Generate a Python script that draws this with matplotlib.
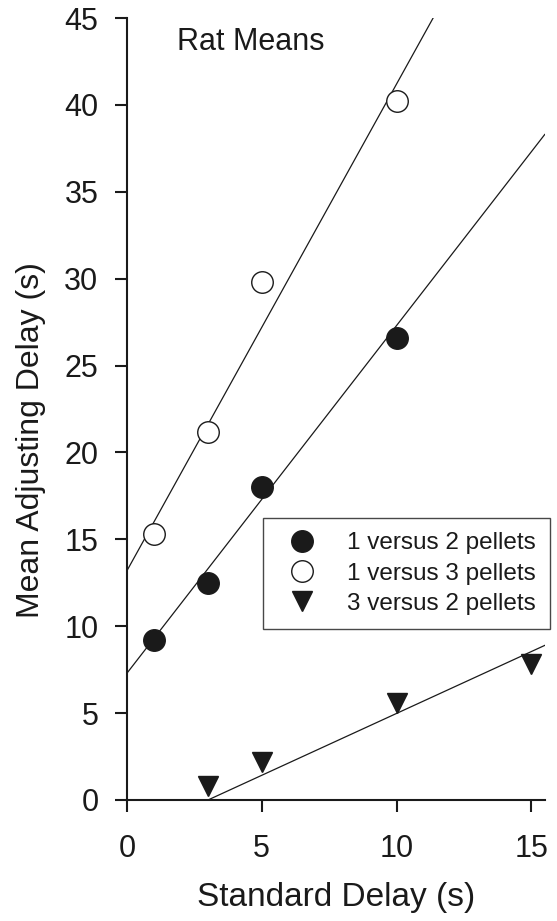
import numpy as np
import matplotlib.pyplot as plt

# standard delay (s) for each condition
x_1v2 = [1, 3, 5, 10]
x_1v3 = [1, 3, 5, 10]
x_3v2 = [3, 5, 10, 15]

# mean adjusting delay (s)
y_1v2 = [9.2, 12.5, 18.0, 26.6]
y_1v3 = [15.3, 21.2, 29.8, 40.2]
y_3v2 = [0.8, 2.2, 5.6, 7.8]

# fitted lines (intercept, slope)
fit_1v2 = [7.3, 2.0]
fit_1v3 = [13.2, 2.8]
fit_3v2 = [-2.14, 0.712]

labels = ["1 versus 2 pellets", "1 versus 3 pellets", "3 versus 2 pellets"]

ink = "#1a1a1a"
plt.rcParams["font.family"] = ["Liberation Sans", "DejaVu Sans"]

fig = plt.figure(figsize=(5.57, 9.21), dpi=100)
ax = fig.add_axes([0.228, 0.1314, 0.75, 0.849])

xs = np.linspace(0, 15.5, 100)
for b, m in [fit_1v2, fit_1v3, fit_3v2]:
    ax.plot(xs, b + m * xs, color=ink, lw=0.9, zorder=2)

ax.plot(x_1v2, y_1v2, "o", ms=15.5, mfc=ink, mec=ink, label=labels[0], zorder=3)
ax.plot(x_1v3, y_1v3, "o", ms=15.5, mfc="white", mec=ink, mew=1.0, label=labels[1], zorder=3)
ax.plot(x_3v2, y_3v2, "v", ms=15, mfc=ink, mec=ink, label=labels[2], zorder=3)

ax.set_xlim(0, 15.5)
ax.set_ylim(0, 45)
ax.set_xticks([0, 5, 10, 15])
ax.set_yticks(range(0, 46, 5))
for s in ["top", "right"]:
    ax.spines[s].set_visible(False)
for s in ["left", "bottom"]:
    ax.spines[s].set_linewidth(1.5)
    ax.spines[s].set_color(ink)
ax.tick_params(axis="both", direction="out", length=8.6, width=1.5, color=ink,
               labelsize=22, labelcolor=ink)
ax.tick_params(axis="x", pad=16)
ax.tick_params(axis="y", pad=12)

ax.set_xlabel("Standard Delay (s)", fontsize=24, color=ink)
ax.xaxis.set_label_coords(0.5, -0.105)
ax.set_ylabel("Mean Adjusting Delay (s)", fontsize=23, color=ink)
ax.yaxis.set_label_coords(-0.195, 0.46)

ax.text(0.12, 0.959, "Rat Means", transform=ax.transAxes, fontsize=22,
        color=ink, va="baseline", ha="left")

leg = ax.legend(loc="upper left", bbox_to_anchor=(0.325, 0.361), borderaxespad=0,
                fontsize=17.5, frameon=True, fancybox=False, edgecolor=ink,
                handletextpad=0.85, borderpad=0.6, labelspacing=0.34,
                handlelength=2.0, numpoints=1)
leg.get_frame().set_linewidth(1.0)
for t in leg.get_texts():
    t.set_color(ink)

fig.savefig("out.png", dpi=100)
